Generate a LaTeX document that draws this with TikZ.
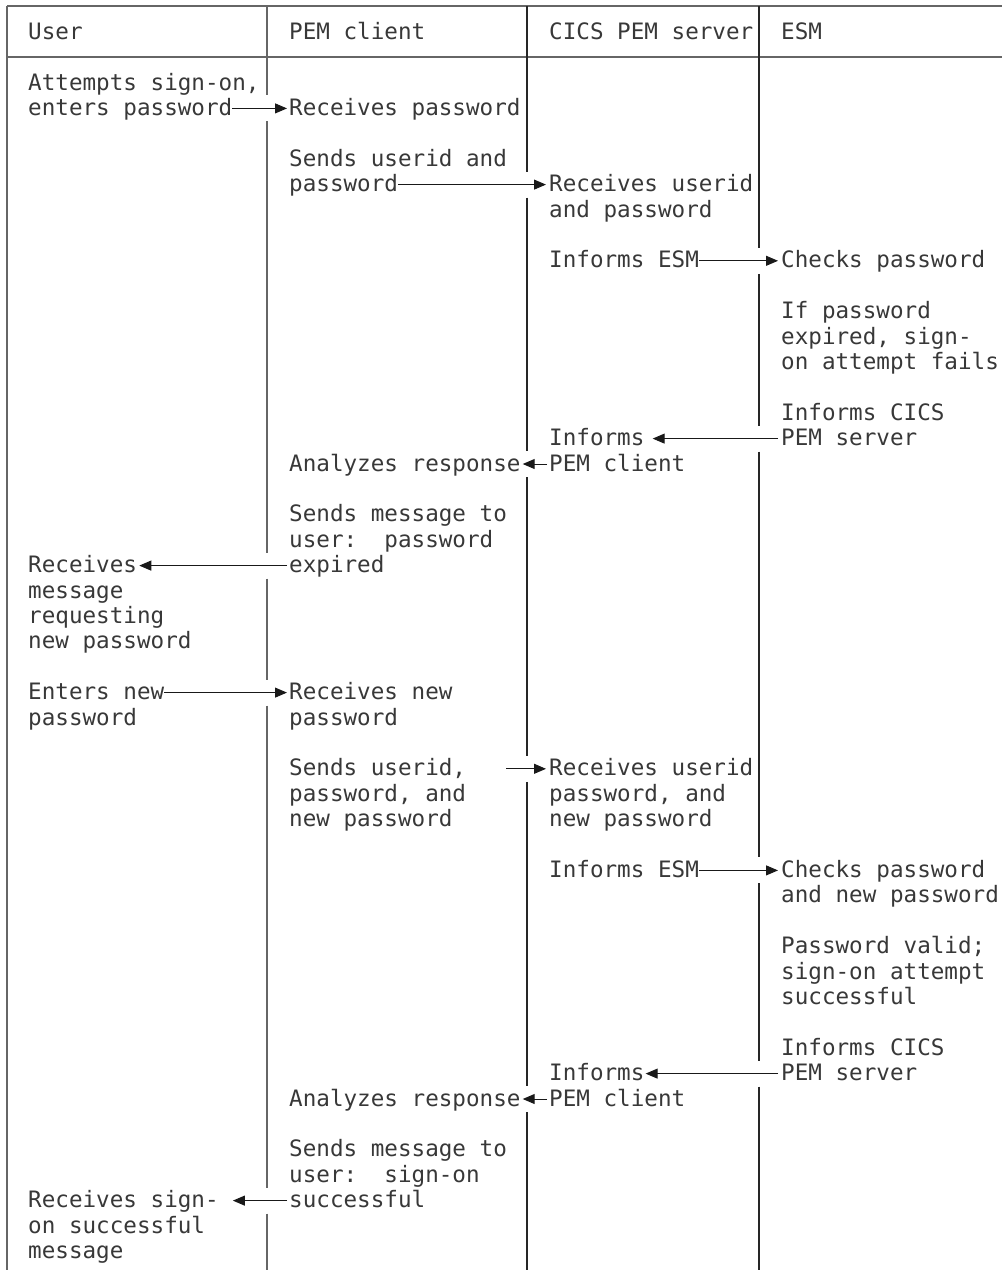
\documentclass[tikz,border=0pt]{standalone}
\usepackage{fontspec}
\newfontfamily\monof{DejaVu Sans Mono}
\usetikzlibrary{arrows.meta}
\def\cxA{28}\def\cxB{289}\def\cxC{549}\def\cxD{781}
\begin{document}
\begin{tikzpicture}[x=1pt,y=-1pt,
  txt/.style={anchor=base west,inner sep=0pt,text height=17pt,text depth=3pt,
    font=\monof\fontsize{22.6}{25.4}\selectfont,text=black!78},
  frame/.style={line width=1.4pt,draw=black!60},
  colline/.style={line width=1.1pt,draw=black!85},
  arr/.style={line width=1pt,draw=black!90,-{Triangle[length=12pt,width=10pt]}}]
\useasboundingbox (0,0) rectangle (1002,1270);
% frame
\draw[frame] (7,6) -- (1002,6);
\draw[frame] (7,57) -- (1002,57);
\draw[frame] (7,6) -- (7,1270);
\draw[frame] (267,6) -- (267,95.4) (267,121.4) -- (267,552.6) (267,578.6) -- (267,679.6)
  (267,705.6) -- (267,1187.6) (267,1213.6) -- (267,1270);
\draw[colline] (527,6) -- (527,171.6) (527,197.6) -- (527,451) (527,477) -- (527,755.8)
  (527,781.8) -- (527,1086) (527,1112) -- (527,1270);
\draw[colline] (759,6) -- (759,247.8) (759,273.8) -- (759,425.6) (759,451.6) -- (759,857.4)
  (759,883.4) -- (759,1060.6) (759,1086.6) -- (759,1270);
% headers
\node[txt] (hU) at (\cxA,39) {User};
\node[txt] (hP) at (\cxB,39) {PEM client};
\node[txt] (hC) at (\cxC,39) {CICS PEM server};
\node[txt] (hE) at (\cxD,39) {ESM};
% column 1: User
\node[txt] (u0)  at (\cxA,{90+25.4*0})  {Attempts sign-on,};
\node[txt] (u1)  at (\cxA,{90+25.4*1})  {enters password};
\node[txt] (u19) at (\cxA,{90+25.4*19}) {Receives};
\node[txt] (u20) at (\cxA,{90+25.4*20}) {message};
\node[txt] (u21) at (\cxA,{90+25.4*21}) {requesting};
\node[txt] (u22) at (\cxA,{90+25.4*22}) {new password};
\node[txt] (u24) at (\cxA,{90+25.4*24}) {Enters new};
\node[txt] (u25) at (\cxA,{90+25.4*25}) {password};
\node[txt] (u44) at (\cxA,{90+25.4*44}) {Receives sign-};
\node[txt] (u45) at (\cxA,{90+25.4*45}) {on successful};
\node[txt] (u46) at (\cxA,{90+25.4*46}) {message};
% column 2: PEM client
\node[txt] (p1)  at (\cxB,{90+25.4*1})  {Receives password};
\node[txt] (p3)  at (\cxB,{90+25.4*3})  {Sends userid and};
\node[txt] (p4)  at (\cxB,{90+25.4*4})  {password};
\node[txt] (p15) at (\cxB,{90+25.4*15}) {Analyzes response};
\node[txt] (p17) at (\cxB,{90+25.4*17}) {Sends message to};
\node[txt] (p18) at (\cxB,{90+25.4*18}) {user:\ \ password};
\node[txt] (p19) at (\cxB,{90+25.4*19}) {expired};
\node[txt] (p24) at (\cxB,{90+25.4*24}) {Receives new};
\node[txt] (p25) at (\cxB,{90+25.4*25}) {password};
\node[txt] (p27) at (\cxB,{90+25.4*27}) {Sends userid,};
\node[txt] (p28) at (\cxB,{90+25.4*28}) {password, and};
\node[txt] (p29) at (\cxB,{90+25.4*29}) {new password};
\node[txt] (p40) at (\cxB,{90+25.4*40}) {Analyzes response};
\node[txt] (p42) at (\cxB,{90+25.4*42}) {Sends message to};
\node[txt] (p43) at (\cxB,{90+25.4*43}) {user:\ \ sign-on};
\node[txt] (p44) at (\cxB,{90+25.4*44}) {successful};
% column 3: CICS PEM server
\node[txt] (s4)  at (\cxC,{90+25.4*4})  {Receives userid};
\node[txt] (s5)  at (\cxC,{90+25.4*5})  {and password};
\node[txt] (s7)  at (\cxC,{90+25.4*7})  {Informs ESM};
\node[txt] (s14) at (\cxC,{90+25.4*14}) {Informs};
\node[txt] (s15) at (\cxC,{90+25.4*15}) {PEM client};
\node[txt] (s27) at (\cxC,{90+25.4*27}) {Receives userid};
\node[txt] (s28) at (\cxC,{90+25.4*28}) {password, and};
\node[txt] (s29) at (\cxC,{90+25.4*29}) {new password};
\node[txt] (s31) at (\cxC,{90+25.4*31}) {Informs ESM};
\node[txt] (s39) at (\cxC,{90+25.4*39}) {Informs};
\node[txt] (s40) at (\cxC,{90+25.4*40}) {PEM client};
% column 4: ESM
\node[txt] (e7)  at (\cxD,{90+25.4*7})  {Checks password};
\node[txt] (e9)  at (\cxD,{90+25.4*9})  {If password};
\node[txt] (e10) at (\cxD,{90+25.4*10}) {expired, sign-};
\node[txt] (e11) at (\cxD,{90+25.4*11}) {on attempt fails};
\node[txt] (e13) at (\cxD,{90+25.4*13}) {Informs CICS};
\node[txt] (e14) at (\cxD,{90+25.4*14}) {PEM server};
\node[txt] (e31) at (\cxD,{90+25.4*31}) {Checks password};
\node[txt] (e32) at (\cxD,{90+25.4*32}) {and new password};
\node[txt] (e34) at (\cxD,{90+25.4*34}) {Password valid;};
\node[txt] (e35) at (\cxD,{90+25.4*35}) {sign-on attempt};
\node[txt] (e36) at (\cxD,{90+25.4*36}) {successful};
\node[txt] (e38) at (\cxD,{90+25.4*38}) {Informs CICS};
\node[txt] (e39) at (\cxD,{90+25.4*39}) {PEM server};
% connectors
\draw[arr,shorten >=2pt] (u1.east) -- (p1.west);
\draw[arr,shorten >=3pt] (p4.east) -- (s4.west);
\draw[arr,shorten >=3pt] (s7.east) -- (e7.west);
\draw[arr,shorten <=3pt,shorten >=8pt] (e14.west) -- (s14.east);
\draw[arr,shorten <=2pt,shorten >=2pt] (s15.west) -- (p15.east);
\draw[arr,shorten <=2pt,shorten >=2pt] (p19.west) -- (u19.east);
\draw[arr,shorten >=2pt] (u24.east) -- (p24.west);
\draw[arr,shorten <=40pt,shorten >=3pt] (p27.east) -- (s27.west);
\draw[arr,shorten >=3pt] (s31.east) -- (e31.west);
\draw[arr,shorten <=3pt,shorten >=1pt] (e39.west) -- (s39.east);
\draw[arr,shorten <=2pt,shorten >=2pt] (s40.west) -- (p40.east);
\draw[arr,shorten <=2pt,shorten >=14pt] (p44.west) -- (u44.east);
\end{tikzpicture}
\end{document}
